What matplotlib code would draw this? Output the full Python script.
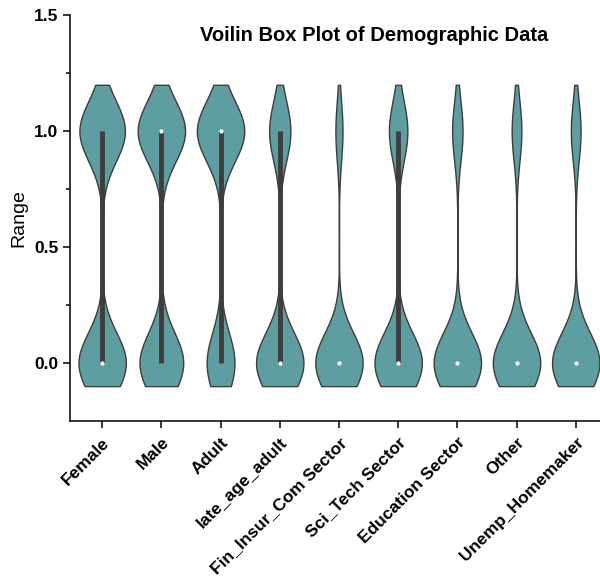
import matplotlib.pyplot as plt
import numpy as np

plt.rcParams["font.family"] = ["Liberation Sans", "DejaVu Sans"]

CATEGORIES = ["Female", "Male", "Adult", "late_age_adult", "Fin_Insur_Com Sector",
              "Sci_Tech Sector", "Education Sector", "Other", "Unemp_Homemaker"]
# share of respondents coded 1 in each binary indicator
SHARE_ONE = [0.49, 0.52, 0.63, 0.31, 0.13, 0.28, 0.18, 0.17, 0.17]
N_RESP = 200

Y_LOW, Y_HIGH = -0.1, 1.2   # violin cut range
BW = 0.13                   # kernel bandwidth
FILL = "#5f9ea0"
EDGE = "#3d3d3d"


def kde_stats(sample):
    coords = np.linspace(Y_LOW, Y_HIGH, 300)
    diffs = (coords[:, None] - sample[None, :]) / BW
    vals = np.exp(-0.5 * diffs ** 2).sum(axis=1) / (len(sample) * BW * np.sqrt(2 * np.pi))
    return {
        "coords": coords,
        "vals": vals,
        "mean": sample.mean(),
        "median": np.median(sample),
        "min": sample.min(),
        "max": sample.max(),
    }


samples = []
for share in SHARE_ONE:
    n_one = int(round(share * N_RESP))
    samples.append(np.r_[np.zeros(N_RESP - n_one), np.ones(n_one)])

positions = np.arange(len(CATEGORIES))

fig = plt.figure(figsize=(6.0, 5.87), dpi=100)
ax = fig.add_axes([0.117, 0.283, 0.883, 0.691])

parts = ax.violin([kde_stats(s) for s in samples], positions=positions, widths=0.8,
                  showmeans=False, showextrema=False, showmedians=False)
for body in parts["bodies"]:
    body.set_facecolor(FILL)
    body.set_edgecolor(EDGE)
    body.set_linewidth(1.0)
    body.set_alpha(1)

# inner box (interquartile range) and median dot
for pos, s in zip(positions, samples):
    q1, med, q3 = np.percentile(s, [25, 50, 75])
    if q3 > q1:
        ax.vlines(pos, q1, q3, color=EDGE, linewidth=3.5, zorder=3)
    ax.scatter(pos, med, s=9, color="white", zorder=4, linewidths=0)

ax.set_xlim(-0.54, 8.41)
ax.set_ylim(-0.25, 1.5)
ax.set_yticks([0.0, 0.5, 1.0, 1.5])
ax.set_yticks([0.25, 0.75, 1.25], minor=True)
ax.set_xticks(positions)
ax.set_xticklabels(CATEGORIES, rotation=45, ha="right", va="top", rotation_mode="anchor",
                   fontsize=12.5, fontweight="bold")
for lab in ax.get_yticklabels():
    lab.set_fontweight("bold")
    lab.set_fontsize(12.5)
ax.tick_params(axis="both", which="major", length=5, width=1.1, direction="out")
ax.tick_params(axis="y", which="minor", length=3, width=1.1, direction="out")
ax.tick_params(axis="x", pad=5)
for side in ("left", "bottom"):
    ax.spines[side].set_linewidth(1.1)

ax.spines["top"].set_visible(False)
ax.spines["right"].set_visible(False)
ax.set_ylabel("Range", fontsize=14, labelpad=5)
ax.text(0.574, 0.95, "Voilin Box Plot of Demographic Data", transform=ax.transAxes,
        ha="center", va="center", fontsize=14.5, fontweight="bold")

fig.savefig("out.png", dpi=100)
